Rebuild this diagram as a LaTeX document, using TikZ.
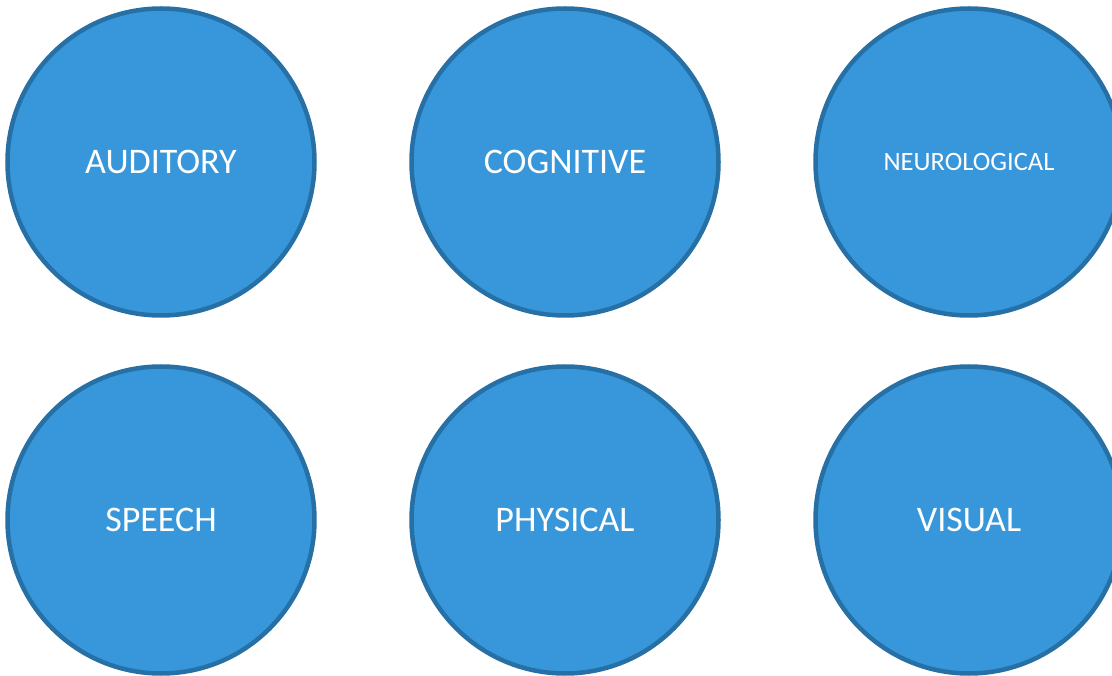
\documentclass[tikz,border=0pt]{standalone}
\usepackage{fontspec}
\setmainfont{Carlito}
\usetikzlibrary{calc}

\definecolor{bubblefill}{HTML}{3797DA}
\definecolor{bubbleline}{HTML}{2670A6}

\tikzset{
  bubble/.style={circle, draw=bubbleline, fill=bubblefill, line width=4.5pt,
    minimum size=307pt, inner sep=0pt, text=white,
    font=\fontsize{36}{42}\selectfont},
  smallbubble/.style={bubble, font=\fontsize{26.5}{31}\selectfont}
}

\begin{document}
\begin{tikzpicture}[x=1pt,y=-1pt] % 1pt = 1px of the 1112x676 frame
\useasboundingbox (0,0) rectangle (1112,676);
\clip (0,0) rectangle (1112,676);

%ROW NR. 0 (from top)

%ELEMENT IN COLUMN NR. 0 (from left)
\node[bubble] (auditory) at (161,162) {\raisebox{-2pt}{AUDITORY}};

%ELEMENT IN COLUMN NR. 1 (from left)
\node[bubble] (cognitive) at (565,162) {\raisebox{-2pt}{COGNITIVE}};

%ELEMENT IN COLUMN NR. 2 (from left)
\node[smallbubble] (neuro) at (969,162) {NEUROLOGICAL};



%ROW NR. 1 (from top)

%ELEMENT IN COLUMN NR. 0 (from left)
\node[bubble] (speech) at (161,520) {\raisebox{-2pt}{SPEECH}};

%ELEMENT IN COLUMN NR. 1 (from left)
\node[bubble] (physical) at (565,520) {\raisebox{-2pt}{PHYSICAL}};

%ELEMENT IN COLUMN NR. 2 (from left)
\node[bubble] (visual) at (969,520) {\raisebox{-2pt}{VISUAL}};

\end{tikzpicture}
\end{document}
